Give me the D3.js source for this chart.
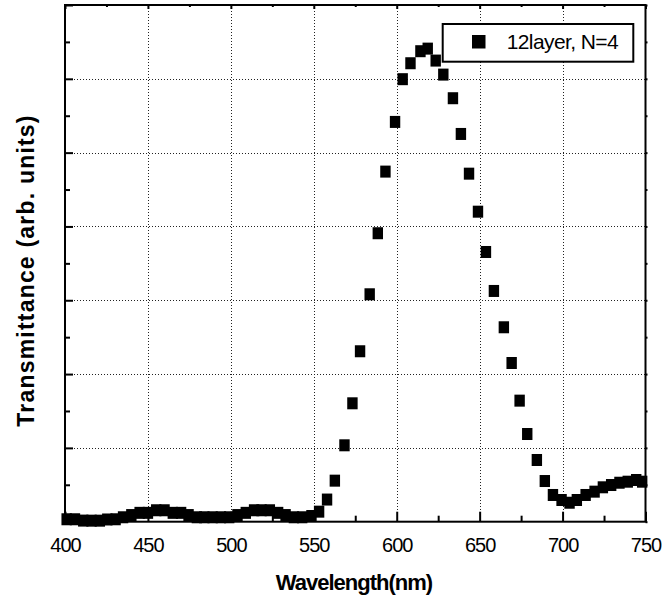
<!DOCTYPE html>
<html>
<head>
<meta charset="utf-8">
<script src="https://cdn.jsdelivr.net/npm/d3@7/dist/d3.min.js"></script>
<style>
  html, body { margin: 0; padding: 0; background: #fff; }
  svg { display: block; }
</style>
</head>
<body>
<svg id="chart" width="669" height="598"></svg>
<script>
// ---- data ----
const wavelength = [
  401, 406, 411, 416, 421, 425.5, 430.5, 435, 440, 445, 450, 455, 460, 465, 470,
  474.5, 479.5, 484, 489, 494, 499, 504, 509, 514, 518.5, 523.5, 528.5, 533, 538, 543, 548.6,
  553.2, 558.0, 562.7, 568.5, 573.3, 577.9, 583.7, 588.6, 593.2, 599.0, 603.6, 608.3,
  614.3, 618.7, 623.5, 628.1, 633.9, 638.7, 643.6, 649.0, 653.8, 658.6, 664.6, 669.3,
  674.1, 678.7, 684.5, 689.3, 694.2, 699.4, 704.2, 708.6, 713.9, 719.3, 724.3, 729.3,
  734.3, 739.3, 744.4, 748.0
];
const transmittance = [
  0.033, 0.033, 0.015, 0.014, 0.014, 0.03, 0.033, 0.06, 0.09, 0.12, 0.12, 0.155, 0.155, 0.12, 0.12,
  0.09, 0.06, 0.06, 0.06, 0.06, 0.06, 0.09, 0.12, 0.155, 0.155, 0.155, 0.12, 0.09, 0.06, 0.06, 0.077,
  0.136, 0.30, 0.556, 1.035, 1.604, 2.309, 3.081, 3.908, 4.743, 5.416, 5.995, 6.211,
  6.374, 6.409, 6.247, 6.057, 5.737, 5.253, 4.715, 4.200, 3.654, 3.126, 2.634, 2.150,
  1.640, 1.188, 0.836, 0.551, 0.362, 0.294, 0.257, 0.294, 0.362, 0.407, 0.466, 0.497,
  0.528, 0.542, 0.565, 0.542
];
const xTicks = [400, 450, 500, 550, 600, 650, 700, 750];
const xMinorTicks = [425, 475, 525, 575, 625, 675, 725];
const yMajorTicks = [0, 1, 2, 3, 4, 5, 6, 7];
const yMinorTicks = [0.5, 1.5, 2.5, 3.5, 4.5, 5.5, 6.5];
const seriesName = "12layer, N=4";
const xTitle = "Wavelength(nm)";
const yTitle = "Transmittance (arb. units)";

// ---- layout ----
const L = 65, R = 645.5, T = 5, B = 521.7;
const svg = d3.select("#chart");
const x = d3.scaleLinear().domain([400, 750]).range([L, R]);
const y = d3.scaleLinear().domain([0, 7]).range([B, T]);

// gridlines (dotted)
const grid = svg.append("g").attr("stroke", "#222").attr("stroke-width", 1)
  .attr("stroke-dasharray", "1,2").attr("shape-rendering", "crispEdges");
grid.selectAll("line.gx").data(xTicks.slice(1, -1)).enter().append("line")
  .attr("x1", d => Math.round(x(d)) + 0.5).attr("x2", d => Math.round(x(d)) + 0.5)
  .attr("y1", T).attr("y2", B);
grid.selectAll("line.gy").data(yMajorTicks.slice(1, -1)).enter().append("line")
  .attr("y1", d => Math.round(y(d)) + 0.5).attr("y2", d => Math.round(y(d)) + 0.5)
  .attr("x1", L).attr("x2", R);

// points
const pts = wavelength.map((w, i) => [w, transmittance[i]]);
svg.append("g").selectAll("rect").data(pts).enter().append("rect")
  .attr("x", d => x(d[0]) - 5.2).attr("y", d => y(d[1]) - 6)
  .attr("width", 10.4).attr("height", 12).attr("fill", "#000");

// axes: bottom, left, top, right using d3 axes with inward ticks
function styleAxis(g) {
  g.select(".domain").remove();
  g.selectAll("line").attr("stroke", "#000").attr("stroke-width", 2);
}
const bottomMajor = svg.append("g").attr("transform", `translate(0,${B})`)
  .call(d3.axisBottom(x).tickValues(xTicks).tickSizeInner(-10).tickSizeOuter(0).tickPadding(16));
styleAxis(bottomMajor);
bottomMajor.selectAll("text").attr("font-family", "Liberation Sans, Arial, sans-serif")
  .attr("font-size", 20).attr("letter-spacing", "-1px").attr("fill", "#000");
const bottomMinor = svg.append("g").attr("transform", `translate(0,${B})`)
  .call(d3.axisBottom(x).tickValues(xMinorTicks).tickSizeInner(-6).tickSizeOuter(0).tickFormat(""));
styleAxis(bottomMinor);

const topMajor = svg.append("g").attr("transform", `translate(0,${T})`)
  .call(d3.axisTop(x).tickValues(xTicks).tickSizeInner(-4).tickSizeOuter(0).tickFormat(""));
styleAxis(topMajor);
const topMinor = svg.append("g").attr("transform", `translate(0,${T})`)
  .call(d3.axisTop(x).tickValues(xMinorTicks).tickSizeInner(-2).tickSizeOuter(0).tickFormat(""));
styleAxis(topMinor);

const leftMajor = svg.append("g").attr("transform", `translate(${L},0)`)
  .call(d3.axisLeft(y).tickValues(yMajorTicks).tickSizeInner(-8).tickSizeOuter(0).tickFormat(""));
styleAxis(leftMajor);
const leftMinor = svg.append("g").attr("transform", `translate(${L},0)`)
  .call(d3.axisLeft(y).tickValues(yMinorTicks).tickSizeInner(-5).tickSizeOuter(0).tickFormat(""));
styleAxis(leftMinor);

const rightMajor = svg.append("g").attr("transform", `translate(${R},0)`)
  .call(d3.axisRight(y).tickValues(yMajorTicks).tickSizeInner(2).tickSizeOuter(0).tickFormat(""));
styleAxis(rightMajor);
const rightMinor = svg.append("g").attr("transform", `translate(${R},0)`)
  .call(d3.axisRight(y).tickValues(yMinorTicks).tickSizeInner(2).tickSizeOuter(0).tickFormat(""));
styleAxis(rightMinor);

// frame
svg.append("rect").attr("x", L).attr("y", T).attr("width", R - L).attr("height", B - T)
  .attr("fill", "none").attr("stroke", "#000").attr("stroke-width", 2);

// axis titles
svg.append("text").attr("x", 354).attr("y", 590).attr("text-anchor", "middle")
  .attr("font-family", "Liberation Sans, Arial, sans-serif").attr("font-weight", "bold")
  .attr("font-size", 22).attr("letter-spacing", "-1px").text(xTitle);
svg.append("text").attr("transform", "translate(34,270.5) rotate(-90)").attr("text-anchor", "middle")
  .attr("font-family", "Liberation Sans, Arial, sans-serif").attr("font-weight", "bold")
  .attr("font-size", 23).attr("letter-spacing", "1.2px").text(yTitle);

// legend
const lg = svg.append("g");
lg.append("rect").attr("x", 442.7).attr("y", 24).attr("width", 190.6).attr("height", 37.7)
  .attr("fill", "#fff").attr("stroke", "#000").attr("stroke-width", 2);
lg.append("rect").attr("x", 472).attr("y", 35).attr("width", 13.5).attr("height", 13.5).attr("fill", "#000");
lg.append("text").attr("x", 506.7).attr("y", 49.3)
  .attr("font-family", "Liberation Sans, Arial, sans-serif").attr("font-size", 21)
  .attr("letter-spacing", "-0.6px").text(seriesName);
</script>
</body>
</html>
